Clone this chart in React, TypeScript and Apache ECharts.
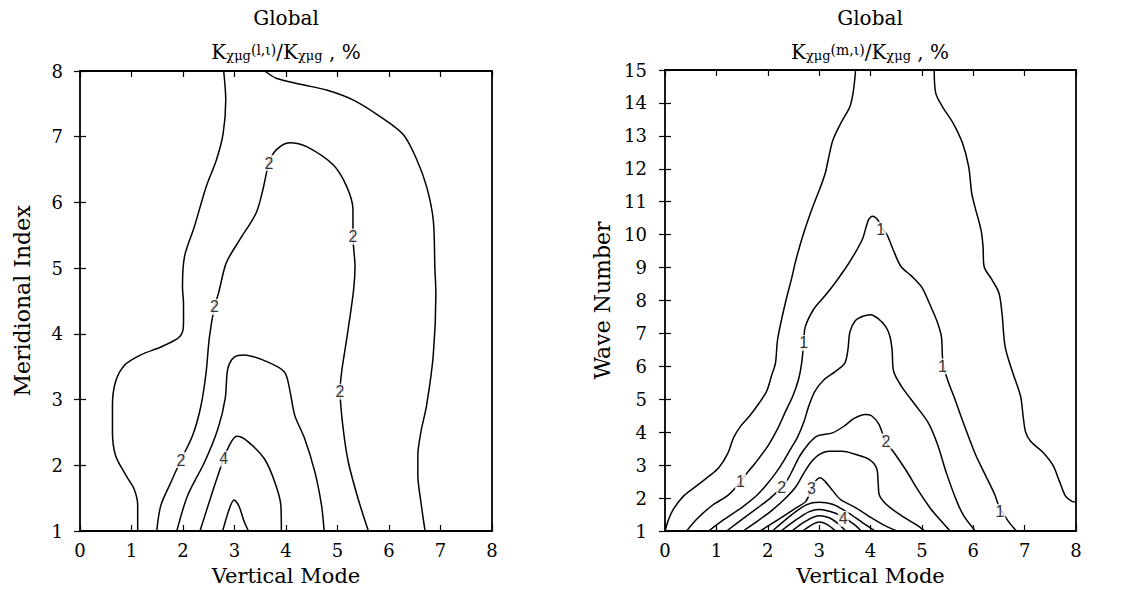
import React, { useEffect, useRef } from "react";
import * as echarts from "echarts";

const FONT = "'DejaVu Serif', serif";
const LABEL_FONT = "'Liberation Sans', sans-serif";

// ---------- Left panel: K(l,ι)/K, % ; x = vertical mode, y = meridional index ----------
const leftC1a = [[2.79,8.0],[2.83,7.56],[2.78,7.05],[2.65,6.65],[2.45,6.24],[2.22,5.63],[2.03,5.18],[1.99,4.72],[2.01,4.45],[2.01,4.18],[1.99,4.03],[1.9,3.93],[1.57,3.8],[1.18,3.68],[0.86,3.52],[0.69,3.27],[0.63,2.91],[0.63,2.51],[0.69,2.15],[0.89,1.85],[1.05,1.64],[1.12,1.39],[1.12,1.0]];
const leftC1b = [[3.59,8.0],[3.81,7.89],[4.33,7.79],[4.79,7.71],[5.3,7.56],[5.82,7.31],[6.28,7.03],[6.54,6.65],[6.73,6.24],[6.86,5.73],[6.89,5.02],[6.91,4.6],[6.86,3.68],[6.73,2.91],[6.62,2.51],[6.56,2.15],[6.56,1.85],[6.62,1.44],[6.7,1.0]];
const leftC2 = [[1.49,1.0],[1.57,1.39],[1.77,1.75],[1.96,2.08],[2.19,2.46],[2.35,2.91],[2.45,3.42],[2.51,3.93],[2.61,4.41],[2.69,4.62],[2.84,5.08],[3.1,5.43],[3.42,5.84],[3.55,6.19],[3.67,6.6],[3.81,6.8],[4.07,6.91],[4.4,6.85],[4.92,6.57],[5.18,6.24],[5.3,5.89],[5.3,5.48],[5.34,5.02],[5.31,4.65],[5.18,3.93],[5.08,3.42],[5.05,3.12],[5.11,2.56],[5.21,2.05],[5.4,1.49],[5.6,1.0]];
const leftC3 = [[1.88,1.0],[2.09,1.54],[2.42,2.05],[2.68,2.56],[2.82,3.02],[2.87,3.47],[3.0,3.65],[3.19,3.68],[3.65,3.57],[3.97,3.42],[4.07,3.16],[4.17,2.76],[4.36,2.41],[4.56,1.9],[4.69,1.39],[4.74,1.0]];
const leftC4 = [[2.33,1.0],[2.55,1.54],[2.79,2.1],[2.94,2.36],[3.05,2.44],[3.26,2.36],[3.58,2.1],[3.78,1.75],[3.9,1.39],[3.91,1.0]];
const leftC5 = [[2.77,1.0],[2.9,1.34],[2.99,1.47],[3.08,1.39],[3.19,1.14],[3.27,1.0]];
const leftLabels = [[3.67,6.6,"2"],[5.3,5.48,"2"],[2.61,4.41,"2"],[1.96,2.08,"2"],[5.05,3.12,"2"],[2.79,2.1,"4"]];

// ---------- Right panel: K(m,ι)/K, % ; x = vertical mode, y = wave number ----------
const rightC05a = [[0,1.0],[0.07,1.35],[0.17,1.68],[0.36,2.06],[0.62,2.38],[0.87,2.68],[1.05,2.93],[1.22,3.35],[1.34,3.85],[1.48,4.2],[1.65,4.5],[1.83,4.88],[1.98,5.25],[2.07,5.7],[2.15,6.1],[2.19,6.8],[2.28,7.5],[2.37,8.1],[2.46,8.64],[2.55,9.24],[2.7,10.05],[2.88,10.86],[3.03,11.46],[3.12,11.87],[3.19,12.37],[3.27,12.88],[3.42,13.38],[3.6,13.89],[3.67,14.4],[3.71,15]];
const rightC05b = [[5.24,15],[5.27,14.3],[5.4,13.89],[5.61,13.38],[5.79,12.78],[5.91,12.07],[5.97,11.26],[6.03,10.86],[6.15,10.15],[6.19,9.65],[6.21,9.04],[6.36,8.64],[6.5,8.23],[6.56,7.6],[6.62,6.6],[6.76,5.85],[6.92,5.1],[6.97,4.5],[7.02,4.0],[7.12,3.72],[7.35,3.4],[7.55,3.0],[7.68,2.5],[7.8,2.05],[7.92,1.9],[8,1.88]];
const rightC1 = [[0.42,1.0],[0.63,1.38],[0.93,1.79],[1.23,2.09],[1.47,2.49],[1.56,2.69],[1.77,3.09],[2.01,3.6],[2.19,4.1],[2.34,4.61],[2.49,5.11],[2.6,5.61],[2.66,6.1],[2.7,6.71],[2.73,7.2],[2.9,7.75],[3.1,8.12],[3.27,8.45],[3.5,8.95],[3.66,9.34],[3.84,9.85],[3.96,10.45],[4.04,10.56],[4.14,10.45],[4.22,10.2],[4.32,10.0],[4.44,9.55],[4.59,9.04],[4.8,8.74],[5.0,8.4],[5.15,7.9],[5.3,7.35],[5.38,6.9],[5.4,6.3],[5.43,5.95],[5.52,5.5],[5.62,5.1],[5.78,4.4],[5.9,3.9],[6.05,3.3],[6.22,2.75],[6.42,2.1],[6.5,1.75],[6.68,1.3],[6.84,1.0]];
const rightC15 = [[0.85,1.0],[1.15,1.35],[1.5,1.72],[1.8,2.1],[2.0,2.45],[2.15,2.75],[2.3,3.1],[2.45,3.5],[2.58,3.85],[2.7,4.3],[2.8,4.8],[2.92,5.25],[3.1,5.6],[3.32,5.85],[3.5,6.1],[3.56,6.5],[3.6,7.05],[3.7,7.38],[3.85,7.52],[4.0,7.57],[4.15,7.45],[4.3,7.2],[4.38,6.9],[4.42,6.5],[4.45,5.85],[4.6,5.4],[4.88,4.81],[5.12,4.3],[5.3,3.65],[5.48,2.75],[5.68,1.9],[5.82,1.45],[6.04,1.0]];
const rightC2 = [[1.2,1.0],[1.5,1.35],[1.8,1.7],[2.05,2.0],[2.27,2.33],[2.4,2.6],[2.5,2.9],[2.62,3.27],[2.78,3.62],[2.96,3.88],[3.26,3.98],[3.5,4.2],[3.68,4.42],[3.9,4.54],[4.02,4.5],[4.16,4.25],[4.3,3.7],[4.45,3.4],[4.71,2.8],[4.9,2.3],[5.16,1.7],[5.35,1.35],[5.55,1.0]];
const rightC25 = [[1.52,1.0],[1.8,1.3],[2.1,1.65],[2.35,2.0],[2.55,2.35],[2.7,2.75],[2.85,3.1],[3.0,3.32],[3.2,3.42],[3.45,3.42],[3.7,3.33],[3.98,3.17],[4.12,2.9],[4.15,2.45],[4.17,2.1],[4.3,1.82],[4.55,1.52],[4.88,1.2],[5.06,1.0]];
const rightC3 = [[1.85,1.0],[2.21,1.35],[2.56,1.71],[2.74,1.9],[2.85,2.26],[2.93,2.52],[3.02,2.62],[3.12,2.5],[3.25,2.25],[3.42,1.95],[3.7,1.72],[4.02,1.4],[4.3,1.15],[4.52,1.0]];
const rightC35 = [[2.09,1.0],[2.47,1.5],[2.76,1.8],[3.0,1.87],[3.26,1.81],[3.56,1.56],[3.85,1.25],[4.09,1.0]];
const rightC4 = [[2.26,1.0],[2.59,1.38],[2.8,1.58],[3.0,1.65],[3.2,1.6],[3.4,1.48],[3.68,1.2],[3.82,1.0]];
const rightC45 = [[2.47,1.0],[2.74,1.3],[3.0,1.46],[3.26,1.35],[3.52,1.0]];
const rightC5 = [[2.68,1.0],[2.85,1.18],[3.0,1.27],[3.15,1.2],[3.32,1.0]];
const rightLabels = [[1.47,2.49,"1"],[2.7,6.71,"1"],[4.2,10.15,"1"],[5.4,6.0,"1"],[6.52,1.58,"1"],[2.27,2.33,"2"],[4.3,3.72,"2"],[2.85,2.28,"3"],[3.47,1.37,"4"]];

const leftContours = [leftC1a, leftC1b, leftC2, leftC3, leftC4, leftC5];
const rightContours = [rightC05a, rightC05b, rightC1, rightC15, rightC2, rightC25, rightC3, rightC35, rightC4, rightC45, rightC5];

const grids = [
  { left: 80, top: 71, width: 412, height: 461 },
  { left: 665, top: 70, width: 411, height: 462 },
];

const labelStyle = { color: "#000", fontSize: 18, fontFamily: FONT };
const xNameStyle = { color: "#000", fontSize: 21, fontFamily: FONT };
const yNameStyle = { color: "#000", fontSize: 22, fontFamily: FONT };

function xAxes(gi: number) {
  const base = {
    gridIndex: gi, type: "value", min: 0, max: 8, interval: 1,
    axisLine: { show: false }, splitLine: { show: false },
    axisTick: { show: true, inside: true, length: 6, lineStyle: { color: "#000", width: 1.2 } },
  };
  return [
    { ...base, position: "bottom", axisLabel: { ...labelStyle, margin: 10 },
      name: "Vertical Mode", nameLocation: "middle", nameGap: 34, nameTextStyle: xNameStyle },
    { ...base, position: "top", axisLabel: { show: false } },
  ];
}
function yAxes(gi: number, max: number, name: string, gap: number, margin: number) {
  const base = {
    gridIndex: gi, type: "value", min: 1, max, interval: 1,
    axisLine: { show: false }, splitLine: { show: false },
    axisTick: { show: true, inside: true, length: 6, lineStyle: { color: "#000", width: 1.2 } },
  };
  return [
    { ...base, position: "left", axisLabel: { ...labelStyle, margin },
      name, nameLocation: "middle", nameGap: gap, nameTextStyle: yNameStyle },
    { ...base, position: "right", axisLabel: { show: false } },
  ];
}

function lineSeries(data: number[][], xi: number, yi: number) {
  return {
    type: "line", xAxisIndex: xi, yAxisIndex: yi, data, symbol: "none", smooth: 0.3,
    silent: true, lineStyle: { color: "#000", width: 1.5 }, z: 2,
  };
}
function labelSeries(data: any[], xi: number, yi: number) {
  return {
    type: "scatter", xAxisIndex: xi, yAxisIndex: yi, data, symbolSize: 1, silent: true,
    itemStyle: { color: "rgba(0,0,0,0)" }, z: 5,
    label: {
      show: true, position: "inside", formatter: (p: any) => p.data[2],
      color: "#000", fontSize: 16, fontFamily: LABEL_FONT, backgroundColor: "#fff",
      padding: [0, 1], textBorderWidth: 0, textBorderColor: "transparent",
    },
  };
}

function titleText(cx: number, sub: string) {
  return [
    { type: "text", x: cx, y: 18, style: { text: "Global", font: `20px ${FONT}`, fill: "#000", align: "center", verticalAlign: "middle" } },
    {
      type: "text", x: cx, y: 50,
      style: {
        text: `{k|K}{s|χμg}{m|${sub}}{k|/K}{s|χμg}{k| , %}`,
        font: `20px ${FONT}`, fill: "#000", align: "center", verticalAlign: "middle",
        rich: {
          k: { fontSize: 20, fontFamily: FONT, fill: "#000", lineHeight: 24, verticalAlign: "bottom" },
          s: { fontSize: 13, fontFamily: FONT, fill: "#000", verticalAlign: "bottom", lineHeight: 24 },
          m: { fontSize: 14, fontFamily: FONT, fill: "#000", lineHeight: 24, verticalAlign: "middle" },
        },
      },
    },
  ];
}

export default function App() {
  const ref = useRef<HTMLDivElement>(null);
  useEffect(() => {
    const chart = echarts.init(ref.current!, null, { renderer: "svg" });
    const option: any = {
      animation: false,
      backgroundColor: "#fff",
      grid: grids.map((g) => ({ ...g, show: true, borderColor: "#000", borderWidth: 1.8, backgroundColor: "transparent" })),
      xAxis: [...xAxes(0), ...xAxes(1)],
      yAxis: [...yAxes(0, 8, "Meridional Index", 47, 17), ...yAxes(1, 15, "Wave Number", 52, 18)],
      graphic: [...titleText(286, "(l,ι)"), ...titleText(870, "(m,ι)")],
      series: [
        ...leftContours.map((c) => lineSeries(c, 0, 0)),
        labelSeries(leftLabels, 0, 0),
        ...rightContours.map((c) => lineSeries(c, 2, 2)),
        labelSeries(rightLabels, 2, 2),
      ],
    };
    chart.setOption(option);
    return () => chart.dispose();
  }, []);
  return (
    <div ref={ref} style={{ position: "fixed", left: 0, top: 0, width: 1132, height: 591, background: "#fff" }} />
  );
}
